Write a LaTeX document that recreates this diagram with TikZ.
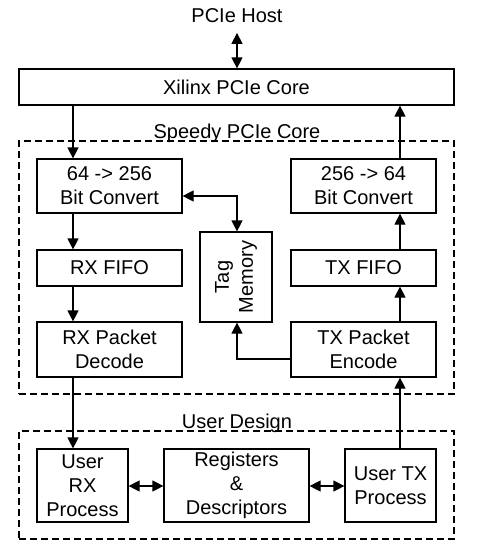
\documentclass[tikz,border=0pt]{standalone}
\usepackage{fontspec}
\setmainfont{Liberation Sans}
\usetikzlibrary{arrows.meta}
\tikzset{
  blk/.style={draw, line width=1.2pt, align=center, inner sep=0pt, font=\fontsize{20}{24}\selectfont},
  grp/.style={draw, line width=1.2pt, dash pattern=on 7pt off 4pt, inner sep=0pt},
  lbl/.style={font=\fontsize{20}{24}\selectfont, inner sep=0pt},
  conn/.style={line width=1.2pt, -{Triangle[length=11pt,width=11pt]}},
  bconn/.style={line width=1.2pt, {Triangle[length=11pt,width=11pt]}-{Triangle[length=11pt,width=11pt]}},
}
\begin{document}
\begin{tikzpicture}[x=1pt,y=-1pt]
\useasboundingbox (0,0) rectangle (480,546);
% groups
\node[grp, minimum width=435pt, minimum height=253pt] (speedy) at (236.5,267.5) {};
\node[grp, minimum width=435pt, minimum height=108pt] (user) at (236.5,485) {};
\node[lbl, anchor=base] (speedylbl) at (237,138) {Speedy PCIe Core};
\node[lbl, anchor=base] (userlbl) at (237,428.5) {User Design};
\node[lbl, anchor=base] (host) at (237,22) {PCIe Host};
% blocks
\node[blk, minimum width=435pt, minimum height=36pt] (xil) at (236.5,87) {Xilinx PCIe Core};
\node[blk, minimum width=145pt, minimum height=54pt] (cv1) at (109.5,186) {64 -> 256\\Bit Convert};
\node[blk, minimum width=145pt, minimum height=54pt] (cv2) at (363.5,186) {256 -> 64\\Bit Convert};
\node[blk, minimum width=145pt, minimum height=36pt] (rxf) at (109.5,268) {RX FIFO};
\node[blk, minimum width=145pt, minimum height=36pt] (txf) at (363.5,268) {TX FIFO};
\node[blk, minimum width=145pt, minimum height=55pt] (rxd) at (109.5,349.5) {RX Packet\\Decode};
\node[blk, minimum width=145pt, minimum height=55pt] (txe) at (363.5,349.5) {TX Packet\\Encode};
\node[blk, minimum width=72pt, minimum height=90pt] (tag) at (236,277) {};
\node[lbl, align=center, rotate=90] (tagtxt) at (tag.center) {Tag\\Memory};
\node[blk, minimum width=91pt, minimum height=73pt] (urx) at (82.5,485.5) {User\\RX\\Process};
\node[blk, minimum width=145pt, minimum height=73pt] (reg) at (236.5,485.5) {Registers\\\&\\Descriptors};
\node[blk, minimum width=91pt, minimum height=73pt] (utx) at (390.5,485.5) {User TX\\Process};
% helper coordinates
\coordinate (L) at (73,0);
\coordinate (R) at (400,0);
\coordinate (M) at (237,0);
\coordinate (ty) at (0,196);
\coordinate (ty2) at (0,359);
\coordinate (by) at (0,486);
% connectors
\draw[bconn, shorten <=10.5pt] (host.south) -- (xil.north -| M);
\draw[conn] (xil.south -| L) -- (cv1.north -| L);
\draw[conn] (cv1.south -| L) -- (rxf.north -| L);
\draw[conn] (rxf.south -| L) -- (rxd.north -| L);
\draw[conn] (rxd.south -| L) -- (urx.north -| L);
\draw[conn] (utx.north -| R) -- (txe.south -| R);
\draw[conn] (txe.north -| R) -- (txf.south -| R);
\draw[conn] (txf.north -| R) -- (cv2.south -| R);
\draw[conn] (cv2.north -| R) -- (xil.south -| R);
\draw[bconn] (cv1.east |- ty) -- (M |- ty) -- (tag.north -| M);
\draw[conn] (txe.west |- ty2) -- (M |- ty2) -- (tag.south -| M);
\draw[bconn] (urx.east |- by) -- (reg.west |- by);
\draw[bconn] (reg.east |- by) -- (utx.west |- by);
\end{tikzpicture}
\end{document}
